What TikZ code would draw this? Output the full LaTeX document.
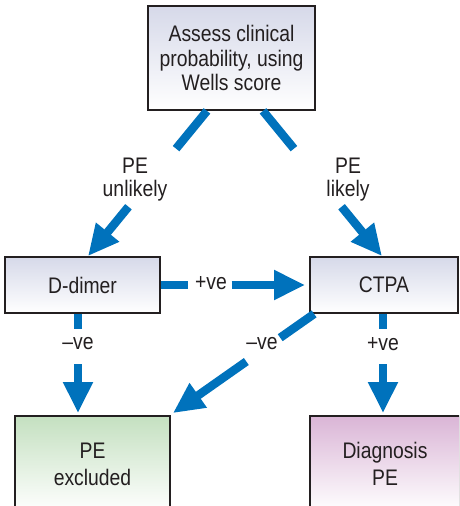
\documentclass[tikz,border=0pt]{standalone}
\usepackage{fontspec}
\setmainfont{Liberation Sans}[FakeStretch=0.86]
\usetikzlibrary{arrows.meta,calc}

\definecolor{flowblue}{HTML}{0072BC}
\definecolor{boxline}{HTML}{231F20}
\definecolor{greyblue}{HTML}{D6D9E9}
\definecolor{palegreen}{HTML}{C4E0C0}
\definecolor{palemauve}{HTML}{DAB5D6}

\newcommand\flowfont{\fontsize{22.5}{24.5}\selectfont}
\newcommand\outcomefont{\fontsize{22.5}{27}\selectfont}
\newcommand\tagfont{\fontsize{22.5}{23}\selectfont}

\begin{document}
\begin{tikzpicture}[x=1pt,y=-1pt,
  box/.style={draw=boxline, line width=1.8pt, align=center, inner sep=0pt,
              font=\flowfont, text=boxline},
  outcomebox/.style={box, font=\outcomefont, minimum height=96pt},
  flowline/.style={draw=flowblue, line width=8.5pt},
  flowarrow/.style={flowline, -{Triangle[length=31pt,width=28pt]}},
  tag/.style={align=center, inner sep=0pt, font=\tagfont, text=boxline}
]
\useasboundingbox (0,0) rectangle (459,506);
\clip (0,0) rectangle (459,506);

% boxes
\node[box, minimum width=167pt, minimum height=104pt,
      top color=greyblue, bottom color=white] (assess) at (231.5,58)
      {Assess clinical\\probability, using\\Wells score};
\node[box, minimum width=155pt, minimum height=56pt,
      top color=greyblue, bottom color=white] (ddimer) at (82.5,285) {D-dimer};
\node[box, minimum width=148pt, minimum height=56pt,
      top color=greyblue, bottom color=white] (ctpa) at (384,285) {CTPA};
\node[outcomebox, minimum width=155pt,
      top color=palegreen, bottom color=white] (excl) at (92.5,464) {PE\\excluded};
\node[outcomebox, minimum width=150pt,
      top color=palemauve, bottom color=white] (diag) at (385,464) {Diagnosis\\PE};

% connector end points on the box edges
\coordinate (a1) at ([xshift=-24.5pt]assess.south);
\coordinate (b1) at ([xshift=5.5pt]ddimer.north);
\coordinate (a2) at ([xshift=31.5pt]assess.south);
\coordinate (b2) at ([xshift=-2pt]ctpa.north);
\coordinate (a3) at (ddimer.east);
\coordinate (b3) at ([xshift=-4pt]ctpa.west);
\coordinate (a4) at ([xshift=-4.5pt]ddimer.south);
\coordinate (b4) at ([xshift=-14.5pt,yshift=2pt]excl.north);
\coordinate (a5) at ([xshift=5pt]ctpa.south west);
\coordinate (b5) at ([xshift=2pt,yshift=2pt]excl.north east);
\coordinate (a6) at ([xshift=-1pt]ctpa.south);
\coordinate (b6) at ([xshift=-2pt,yshift=2pt]diag.north);

% connectors, each broken where its label sits
\draw[flowline]  (a1) -- ($(a1)!0.26!(b1)$);
\draw[flowarrow] ($(a1)!0.66!(b1)$) -- (b1);
\draw[flowline]  (a2) -- ($(a2)!0.26!(b2)$);
\draw[flowarrow] ($(a2)!0.66!(b2)$) -- (b2);
\draw[flowline]  (a3) -- ($(a3)!0.19!(b3)$);
\draw[flowarrow] ($(a3)!0.49!(b3)$) -- (b3);
\draw[flowline]  (a4) -- ($(a4)!0.15!(b4)$);
\draw[flowarrow] ($(a4)!0.51!(b4)$) -- (b4);
\draw[flowline]  (a5) -- ($(a5)!0.24!(b5)$);
\draw[flowarrow] ($(a5)!0.48!(b5)$) -- (b5);
\draw[flowline]  (a6) -- ($(a6)!0.15!(b6)$);
\draw[flowarrow] ($(a6)!0.51!(b6)$) -- (b6);

% labels
\node[tag] (t1) at (135,180) {PE\\unlikely};
\node[tag] (t2) at (348,180) {PE\\likely};
\node[tag] (t3) at (211,283) {+ve};
\node[tag] (t4) at (78,344) {--ve};
\node[tag] (t5) at (262,344) {--ve};
\node[tag] (t6) at (383,344) {+ve};
\end{tikzpicture}
\end{document}
